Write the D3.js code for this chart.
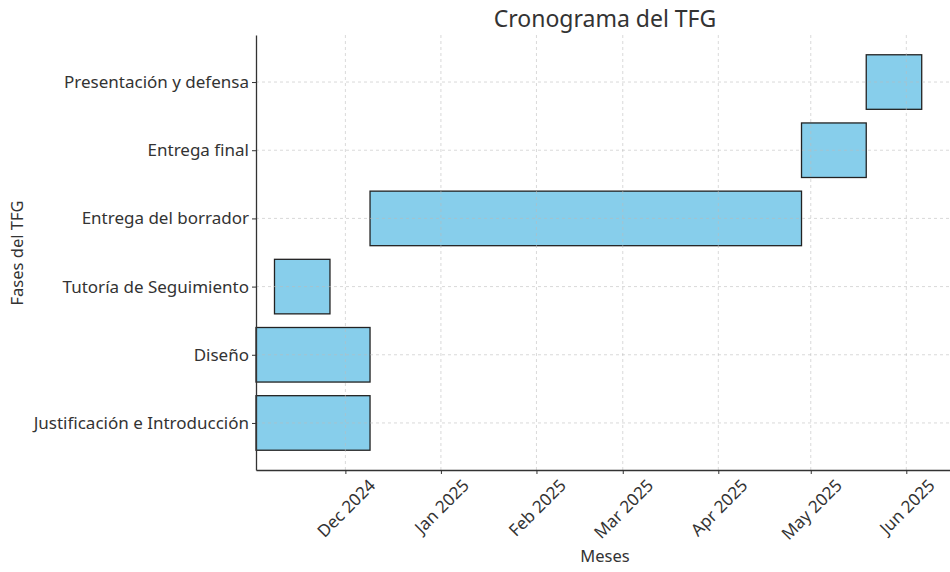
<!DOCTYPE html>
<html>
<head>
<meta charset="utf-8">
<script src="https://cdn.jsdelivr.net/npm/d3@7"></script>
<style>
  body { margin: 0; background: #fff; }
  text { font-family: "Noto Sans", "Open Sans", sans-serif; fill: #333; }
</style>
</head>
<body>
<div id="chart"></div>
<script>
// phases of the project, bottom to top
var phases = ["Justificación e Introducción", "Diseño", "Tutoría de Seguimiento",
  "Entrega del borrador", "Entrega final", "Presentación y defensa"];
var startDates = ["2024-11-02", "2024-11-02", "2024-11-08", "2024-12-09", "2025-04-28", "2025-05-19"];
var endDates = ["2024-12-09", "2024-12-09", "2024-11-26", "2025-04-28", "2025-05-19", "2025-06-06"];
var tickMonths = ["2024-12-01", "2025-01-01", "2025-02-01", "2025-03-01", "2025-04-01", "2025-05-01", "2025-06-01"];

var parse = d3.timeParse("%Y-%m-%d");
var data = phases.map(function (p, i) {
  return { phase: p, i: i, start: parse(startDates[i]), end: parse(endDates[i]) };
});

var width = 950, height = 572;
var svg = d3.select("#chart").append("svg")
  .attr("width", width).attr("height", height);

// x: time, right margin like matplotlib (5% of data span)
var xmin = d3.min(data, function (d) { return d.start; });
var xmaxData = d3.max(data, function (d) { return d.end; });
var xmax = new Date(+xmaxData + 0.05 * (xmaxData - xmin));
var x = d3.scaleTime().domain([xmin, xmax]).range([256, 955]);

var y = d3.scaleLinear().domain([-0.69, 5.69]).range([470, 35]);
var barH = Math.abs(y(0.8) - y(0));

// bars
svg.append("g").selectAll("rect")
  .data(data)
  .join("rect")
  .attr("x", function (d) { return x(d.start); })
  .attr("y", function (d) { return y(d.i + 0.4); })
  .attr("width", function (d) { return x(d.end) - x(d.start); })
  .attr("height", barH)
  .attr("fill", "#87ceeb")
  .attr("stroke", "#222")
  .attr("stroke-width", 1.3);

// grid (drawn above bars)
var ticks = tickMonths.map(parse);
svg.append("g").selectAll("line")
  .data(ticks)
  .join("line")
  .attr("x1", function (d) { return x(d); })
  .attr("x2", function (d) { return x(d); })
  .attr("y1", 35).attr("y2", 470)
  .attr("stroke", "#bbb").attr("stroke-opacity", 0.7)
  .attr("stroke-dasharray", "3,3").attr("stroke-width", 0.8);
svg.append("g").selectAll("line")
  .data(data)
  .join("line")
  .attr("x1", 256).attr("x2", 955)
  .attr("y1", function (d) { return y(d.i); })
  .attr("y2", function (d) { return y(d.i); })
  .attr("stroke", "#bbb").attr("stroke-opacity", 0.7)
  .attr("stroke-dasharray", "3,3").attr("stroke-width", 0.8);

// x axis
var xAxis = svg.append("g")
  .attr("transform", "translate(0,470)")
  .call(d3.axisBottom(x).tickValues(ticks).tickFormat(d3.timeFormat("%b %Y")).tickSize(4).tickSizeOuter(0));
xAxis.select(".domain").attr("stroke", "#333").attr("stroke-width", 1.3);
xAxis.selectAll(".tick line").attr("stroke", "#333");
xAxis.selectAll(".tick text")
  .attr("font-size", "17px")
  .attr("fill", "#333")
  .attr("dy", null)
  .attr("y", 0)
  .style("text-anchor", "middle")
  .attr("dominant-baseline", "central")
  .attr("transform", function () {
    var w = this.getComputedTextLength();
    var c = 7 + (w + 14) / (2 * Math.SQRT2);
    return "translate(0," + c + ")rotate(-45)";
  });

// y axis
var yAxis = svg.append("g")
  .attr("transform", "translate(256,0)")
  .call(d3.axisLeft(y).tickValues(d3.range(phases.length))
    .tickFormat(function (d) { return phases[d]; }).tickSize(4).tickSizeOuter(0));
yAxis.select(".domain").attr("stroke", "#333").attr("stroke-width", 1.3);
yAxis.selectAll(".tick line").attr("stroke", "#333");
yAxis.selectAll(".tick text").attr("font-size", "17px").attr("fill", "#333").attr("x", -7);

// title and labels
svg.append("text")
  .attr("x", 605).attr("y", 27)
  .attr("text-anchor", "middle")
  .attr("font-size", "23px")
  .text("Cronograma del TFG");
svg.append("text")
  .attr("x", 605).attr("y", 562)
  .attr("text-anchor", "middle")
  .attr("font-size", "16.5px")
  .text("Meses");
svg.append("text")
  .attr("transform", "translate(23,253)rotate(-90)")
  .attr("text-anchor", "middle")
  .attr("font-size", "16.5px")
  .text("Fases del TFG");
</script>
</body>
</html>
